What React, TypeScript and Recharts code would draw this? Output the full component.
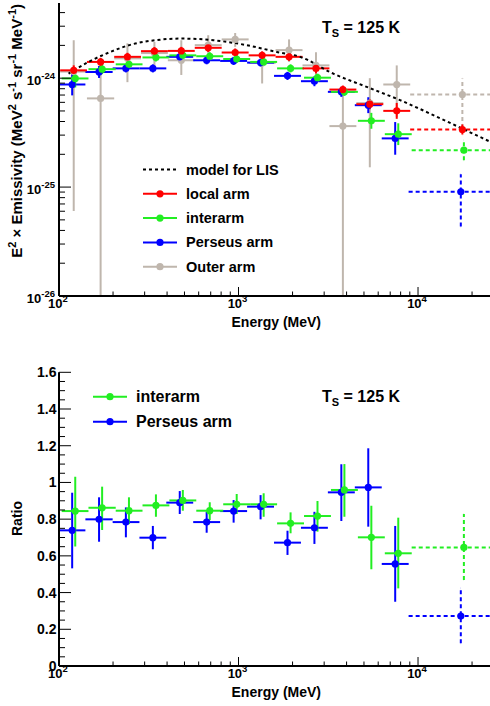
import { ComposedChart, ErrorBar, Line, Scatter, XAxis, YAxis } from "recharts";

const FONT = '"Liberation Sans", Arial, Helvetica, sans-serif';

// energy bins (MeV), 0.15 dex wide, last one is the wide high-energy bin
const binLow = [100, 141, 200, 282, 398, 562, 794, 1122, 1585, 2239, 3162, 4467, 6310, 8913];
const binHigh = [141, 200, 282, 398, 562, 794, 1122, 1585, 2239, 3162, 4467, 6310, 8913, 33900];
const binMid = [119, 168, 237, 335, 473, 668, 944, 1334, 1884, 2661, 3758, 5309, 7499, 17400];

// E^2 x emissivity (MeV^2 s^-1 sr^-1 MeV^-1), errors as half widths in dex
const localArm = [1.18e-24, 1.41e-24, 1.57e-24, 1.77e-24, 1.78e-24, 1.9e-24, 1.72e-24, 1.62e-24, 1.57e-24, 1.23e-24, 7.86e-25, 5.77e-25, 5.01e-25, 3.38e-25];
const localErr = [0.046, 0.037, 0.037, 0.037, 0.037, 0.037, 0.037, 0.037, 0.037, 0.046, 0.037, 0.046, 0.073, 0.046];

const interarm = [9.94e-25, 1.21e-24, 1.34e-24, 1.55e-24, 1.62e-24, 1.59e-24, 1.5e-24, 1.41e-24, 1.23e-24, 1.01e-24, 7.49e-25, 4.06e-25, 3.06e-25, 2.18e-25];
const interarmErr = [0.083, 0.046, 0.037, 0.037, 0.037, 0.037, 0.037, 0.037, 0.037, 0.037, 0.037, 0.073, 0.1, 0.092];

const perseusArm = [8.75e-25, 1.14e-24, 1.23e-24, 1.23e-24, 1.57e-24, 1.46e-24, 1.44e-24, 1.39e-24, 1.05e-24, 9.38e-25, 7.49e-25, 5.65e-25, 2.8e-25, 9.06e-26];
const perseusErrUp = [0.1, 0.055, 0.037, 0.037, 0.037, 0.037, 0.037, 0.037, 0.037, 0.046, 0.046, 0.073, 0.15, 0.16];
const perseusErrDown = [0.1, 0.055, 0.037, 0.037, 0.037, 0.037, 0.037, 0.037, 0.037, 0.046, 0.046, 0.073, 0.15, 0.32];

const outerArm = [1.15e-24, 6.52e-25, 1.52e-24, 1.7e-24, 1.46e-24, 2.01e-24, 2.27e-24, 1.38e-24, 1.81e-24, 1.31e-24, 3.63e-25, 5.9e-25, 8.75e-25, 7.08e-25];
const outerHi = [2.23e-24, 1.52e-24, 2.09e-24, 2.15e-24, 2.23e-24, 2.48e-24, 2.6e-24, 1.74e-24, 2.27e-24, 1.73e-24, 8.1e-25, 1.0e-24, 1.31e-24, 9.94e-25];
const outerLo = [6.03e-26, 1e-26, 9.19e-25, 1.27e-24, 1.07e-24, 1.57e-24, 1.94e-24, 8.94e-25, 1.41e-24, 9.59e-25, 1e-26, 1.52e-25, 4.41e-25, 3.48e-25];

// model for the local interstellar spectrum
const modelEnergy = [113, 146, 193, 254, 343, 483, 724, 1111, 1633, 2203, 3373, 5176, 7943, 12170, 17500, 25200];
const modelLIS = [1.1e-24, 1.41e-24, 1.74e-24, 2.04e-24, 2.23e-24, 2.31e-24, 2.23e-24, 2.01e-24, 1.74e-24, 1.57e-24, 1.1e-24, 8.32e-25, 6.28e-25, 4.58e-25, 3.46e-25, 2.61e-25];

// ratios to the local arm emissivity
const interarmRatio = [0.844, 0.862, 0.846, 0.875, 0.902, 0.846, 0.881, 0.881, 0.777, 0.817, 0.959, 0.701, 0.614, 0.646];
const interarmRatioLo = [0.651, 0.741, 0.773, 0.813, 0.846, 0.795, 0.828, 0.813, 0.723, 0.732, 0.813, 0.527, 0.423, 0.468];
const interarmRatioHi = [1.031, 0.977, 0.919, 0.935, 0.959, 0.892, 0.937, 0.941, 0.837, 0.899, 1.1, 0.873, 0.808, 0.828];
const perseusRatio = [0.739, 0.799, 0.784, 0.699, 0.89, 0.784, 0.844, 0.868, 0.672, 0.753, 0.946, 0.973, 0.556, 0.272];
const perseusRatioLo = [0.532, 0.677, 0.701, 0.636, 0.828, 0.726, 0.781, 0.799, 0.605, 0.665, 0.79, 0.759, 0.35, 0.124];
const perseusRatioHi = [0.944, 0.919, 0.864, 0.763, 0.953, 0.84, 0.904, 0.931, 0.737, 0.84, 1.099, 1.186, 0.763, 0.423];

const energyTicks = [100, 200, 300, 400, 500, 600, 700, 800, 900, 1000, 2000, 3000, 4000, 5000, 6000, 7000, 8000, 9000, 10000, 20000];
const fluxTicks = [
  1e-26, 2e-26, 3e-26, 4e-26, 5e-26, 6e-26, 7e-26, 8e-26, 9e-26,
  1e-25, 2e-25, 3e-25, 4e-25, 5e-25, 6e-25, 7e-25, 8e-25, 9e-25,
  1e-24, 2e-24, 3e-24, 4e-24,
];
const ratioTicks: number[] = [];
for (let k = 0; k <= 32; k++) ratioTicks.push(Math.round(k * 5) / 100);

const RED = "#ff0000";
const GREEN = "#22ee22";
const BLUE = "#0000ff";
const GREY = "#bfb6ad";

// small horizontal offsets between series, as in the original plot
const SHIFT_LOCAL = 1.015;
const SHIFT_INTER = 1.035;
const SHIFT_PERSEUS = 0.995;
const SHIFT_OUTER = 1.015;

type Pt = { x: number; y: number; ex: number[]; ey: number[] };

function buildPoints(values: number[], lower: number[], upper: number[], shift: number): Pt[] {
  return values.map((v, i) => {
    const x = binMid[i] * shift;
    return {
      x,
      y: v,
      ex: [x - binLow[i] * shift, binHigh[i] * shift - x],
      ey: [v - lower[i], upper[i] - v],
    };
  });
}

const dexDown = (vals: number[], err: number[]) => vals.map((v, i) => v / Math.pow(10, err[i]));
const dexUp = (vals: number[], err: number[]) => vals.map((v, i) => v * Math.pow(10, err[i]));

const localPts = buildPoints(localArm, dexDown(localArm, localErr), dexUp(localArm, localErr), SHIFT_LOCAL);
const interPts = buildPoints(interarm, dexDown(interarm, interarmErr), dexUp(interarm, interarmErr), SHIFT_INTER);
const perseusPts = buildPoints(perseusArm, dexDown(perseusArm, perseusErrDown), dexUp(perseusArm, perseusErrUp), SHIFT_PERSEUS);
const outerPts = buildPoints(outerArm, outerLo, outerHi, SHIFT_OUTER);
const modelPts = modelEnergy.map((e, i) => ({ x: e, y: modelLIS[i] }));

const interRatioPts = buildPoints(interarmRatio, interarmRatioLo, interarmRatioHi, SHIFT_INTER);
const perseusRatioPts = buildPoints(perseusRatio, perseusRatioLo, perseusRatioHi, SHIFT_PERSEUS);

const isDecade = (v: number) => Math.abs(Math.log10(v) - Math.round(Math.log10(v))) < 1e-6;
const isRatioMajor = (v: number) => Math.abs(v / 0.2 - Math.round(v / 0.2)) < 1e-6;

function dot(color: string) {
  return (p: any) => <circle cx={p.cx} cy={p.cy} r={3.6} fill={color} />;
}

function series(key: string, pts: Pt[], color: string) {
  const solid = pts.slice(0, 13);
  const dashed = pts.slice(13);
  return [
    <Scatter key={key + "-s"} data={solid} fill={color} isAnimationActive={false} shape={dot(color)}>
      <ErrorBar dataKey="ex" direction="x" width={0} stroke={color} strokeWidth={2} isAnimationActive={false} />
      <ErrorBar dataKey="ey" direction="y" width={0} stroke={color} strokeWidth={2} isAnimationActive={false} />
    </Scatter>,
    <Scatter key={key + "-d"} data={dashed} fill={color} isAnimationActive={false} shape={dot(color)}>
      <ErrorBar dataKey="ex" direction="x" width={0} stroke={color} strokeWidth={2} strokeDasharray="4 3" isAnimationActive={false} />
      <ErrorBar dataKey="ey" direction="y" width={0} stroke={color} strokeWidth={2} strokeDasharray="4 3" isAnimationActive={false} />
    </Scatter>,
  ];
}

function LogLabel({ x, y, exp, anchor }: { x: number; y: number; exp: number; anchor: "middle" | "end" }) {
  return (
    <text x={x} y={y} textAnchor={anchor} fontFamily={FONT} fontWeight="bold" fontSize={13} fill="#000">
      10
      <tspan dy={-6} fontSize={9.5}>
        {exp}
      </tspan>
    </text>
  );
}

function BottomLogTick(p: any) {
  const v = p.payload.value;
  const major = isDecade(v);
  const len = major ? 9 : 4.5;
  return (
    <g>
      <line x1={p.x} x2={p.x} y1={p.y} y2={p.y - len} stroke="#000" strokeWidth={1} />
      {major && <LogLabel x={p.x - 1} y={p.y + 12} exp={Math.round(Math.log10(v))} anchor="middle" />}
    </g>
  );
}

function TopLogTick(p: any) {
  const len = isDecade(p.payload.value) ? 9 : 4.5;
  return <line x1={p.x} x2={p.x} y1={p.y} y2={p.y + len} stroke="#000" strokeWidth={1} />;
}

function LeftLogTick(p: any) {
  const v = p.payload.value;
  const major = isDecade(v);
  const len = major ? 12 : 6;
  return (
    <g>
      <line x1={p.x} x2={p.x + len} y1={p.y} y2={p.y} stroke="#000" strokeWidth={1} />
      {major && <LogLabel x={p.x - 4} y={p.y + 7} exp={Math.round(Math.log10(v))} anchor="end" />}
    </g>
  );
}

function RightLogTick(p: any) {
  const len = isDecade(p.payload.value) ? 12 : 6;
  return <line x1={p.x} x2={p.x - len} y1={p.y} y2={p.y} stroke="#000" strokeWidth={1} />;
}

function LeftRatioTick(p: any) {
  const v = p.payload.value;
  const major = isRatioMajor(v);
  const len = major ? 12 : 6;
  return (
    <g>
      <line x1={p.x} x2={p.x + len} y1={p.y} y2={p.y} stroke="#000" strokeWidth={1} />
      {major && (
        <text x={p.x - 2.5} y={p.y + 5} textAnchor="end" fontFamily={FONT} fontWeight="bold" fontSize={14} fill="#000">
          {String(Math.round(v * 10) / 10)}
        </text>
      )}
    </g>
  );
}

function RightRatioTick(p: any) {
  const len = isRatioMajor(p.payload.value) ? 12 : 6;
  return <line x1={p.x} x2={p.x - len} y1={p.y} y2={p.y} stroke="#000" strokeWidth={1} />;
}

const thick = { stroke: "#000", strokeWidth: 2 };
const thin = { stroke: "#000", strokeWidth: 1.5 };

function EmissivityChart() {
  return (
    <ComposedChart width={493} height={346} margin={{ top: 3, right: 2, bottom: 0, left: 0 }}>
      <XAxis dataKey="x" type="number" scale="log" domain={[100, 25500]} allowDataOverflow ticks={energyTicks} interval={0}
        tickSize={0} tickMargin={0} tickLine={false} height={50} axisLine={thick} tick={(p: any) => <BottomLogTick {...p} />} />
      <XAxis xAxisId="top" orientation="top" type="number" scale="log" domain={[100, 25500]} allowDataOverflow ticks={energyTicks}
        interval={0} tickSize={0} tickMargin={0} tickLine={false} height={0} axisLine={thin} tick={(p: any) => <TopLogTick {...p} />} />
      <YAxis dataKey="y" type="number" scale="log" domain={[1e-26, 4.9e-24]} allowDataOverflow ticks={fluxTicks} interval={0}
        tickSize={0} tickMargin={0} tickLine={false} width={59} axisLine={thick} tick={(p: any) => <LeftLogTick {...p} />} />
      <YAxis yAxisId="right" orientation="right" type="number" scale="log" domain={[1e-26, 4.9e-24]} allowDataOverflow ticks={fluxTicks}
        interval={0} tickSize={0} tickMargin={0} tickLine={false} width={0} axisLine={thin} tick={(p: any) => <RightLogTick {...p} />} />
      {series("outer", outerPts, GREY)}
      {series("perseus", perseusPts, BLUE)}
      {series("inter", interPts, GREEN)}
      {series("local", localPts, RED)}
      <Line data={modelPts} dataKey="y" type="monotone" stroke="#000" strokeWidth={2} strokeDasharray="3 3" dot={false}
        activeDot={false} isAnimationActive={false} />
    </ComposedChart>
  );
}

function RatioChart() {
  return (
    <ComposedChart width={493} height={346} margin={{ top: 12.3, right: 2, bottom: 0, left: 0 }}>
      <XAxis dataKey="x" type="number" scale="log" domain={[100, 25500]} allowDataOverflow ticks={energyTicks} interval={0}
        tickSize={0} tickMargin={0} tickLine={false} height={40} axisLine={thick} tick={(p: any) => <BottomLogTick {...p} />} />
      <XAxis xAxisId="top" orientation="top" type="number" scale="log" domain={[100, 25500]} allowDataOverflow ticks={energyTicks}
        interval={0} tickSize={0} tickMargin={0} tickLine={false} height={0} axisLine={thin} tick={(p: any) => <TopLogTick {...p} />} />
      <YAxis dataKey="y" type="number" domain={[0, 1.6]} allowDataOverflow ticks={ratioTicks} interval={0}
        tickSize={0} tickMargin={0} tickLine={false} width={59} axisLine={thick} tick={(p: any) => <LeftRatioTick {...p} />} />
      <YAxis yAxisId="right" orientation="right" type="number" domain={[0, 1.6]} allowDataOverflow ticks={ratioTicks}
        interval={0} tickSize={0} tickMargin={0} tickLine={false} width={0} axisLine={thin} tick={(p: any) => <RightRatioTick {...p} />} />
      {series("perseus", perseusRatioPts, BLUE)}
      {series("inter", interRatioPts, GREEN)}
    </ComposedChart>
  );
}

function LegendRow({ y, x0, label, color, dotted, size }: { y: number; x0: number; label: string; color: string; dotted?: boolean; size: number }) {
  return (
    <g>
      <line x1={x0} x2={x0 + 34} y1={y} y2={y} stroke={color} strokeWidth={2} strokeDasharray={dotted ? "3 3" : undefined} />
      {!dotted && <circle cx={x0 + 17} cy={y} r={3.6} fill={color} />}
      <text x={x0 + 43} y={y + 5} fontSize={size} fontWeight="bold" fontFamily={FONT} fill="#000">
        {label}
      </text>
    </g>
  );
}

function Ts({ y }: { y: number }) {
  return (
    <text x={322} y={y} fontSize={16} fontWeight="bold" fontFamily={FONT} fill="#000">
      T
      <tspan dy={4} fontSize={11}>
        S
      </tspan>
      <tspan dy={-4}> = 125 K</tspan>
    </text>
  );
}

export default function App() {
  const topLegend = [
    { label: "model for LIS", color: "#000", dotted: true },
    { label: "local arm", color: RED },
    { label: "interarm", color: GREEN },
    { label: "Perseus arm", color: BLUE },
    { label: "Outer arm", color: GREY },
  ];
  const bottomLegend = [
    { label: "interarm", color: GREEN },
    { label: "Perseus arm", color: BLUE },
  ];
  return (
    <div style={{ position: "fixed", left: 0, top: 0, width: 490, height: 706, overflow: "hidden", background: "#fff" }}>
      <div style={{ position: "absolute", left: 0, top: 0 }}>
        <EmissivityChart />
      </div>
      <div style={{ position: "absolute", left: 0, top: 360 }}>
        <RatioChart />
      </div>
      <svg width={490} height={706} style={{ position: "absolute", left: 0, top: 0, pointerEvents: "none" }}>
        <Ts y={32.5} />
        <Ts y={402} />
        {topLegend.map((d, i) => (
          <LegendRow key={d.label} y={169.5 + i * 24.3} x0={143} label={d.label} color={d.color} dotted={d.dotted} size={14.5} />
        ))}
        {bottomLegend.map((d, i) => (
          <LegendRow key={d.label} y={396.7 + i * 25} x0={93} label={d.label} color={d.color} size={16} />
        ))}
        <text x={321} y={327} textAnchor="end" fontSize={14} fontWeight="bold" fontFamily={FONT}>
          Energy (MeV)
        </text>
        <text x={321} y={697} textAnchor="end" fontSize={14} fontWeight="bold" fontFamily={FONT}>
          Energy (MeV)
        </text>
        <text transform="translate(22,4) rotate(-90)" textAnchor="end" fontSize={15} fontWeight="bold" fontFamily={FONT}>
          E
          <tspan dy={-6} fontSize={11}>2</tspan>
          <tspan dy={6}>{" \u00d7 Emissivity (MeV"}</tspan>
          <tspan dy={-6} fontSize={11}>2</tspan>
          <tspan dy={6}>{" s"}</tspan>
          <tspan dy={-6} fontSize={11}>-1</tspan>
          <tspan dy={6}>{" sr"}</tspan>
          <tspan dy={-6} fontSize={11}>-1</tspan>
          <tspan dy={6}>{" MeV"}</tspan>
          <tspan dy={-6} fontSize={11}>-1</tspan>
          <tspan dy={6}>)</tspan>
        </text>
        <text transform="translate(22,536) rotate(-90)" textAnchor="start" fontSize={14} fontWeight="bold" fontFamily={FONT}>
          Ratio
        </text>
      </svg>
    </div>
  );
}
